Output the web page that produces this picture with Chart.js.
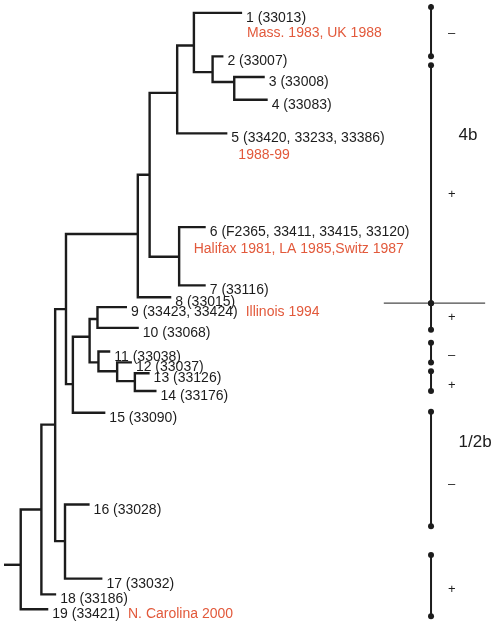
<!DOCTYPE html>
<html>
<head>
<meta charset="utf-8">
<script src="https://cdn.jsdelivr.net/npm/chart.js@4"></script>
<style>
  html, body { margin: 0; padding: 0; background: #fff; overflow: hidden; }
  canvas { display: block; }
</style>
</head>
<body>
<canvas id="treeChart" width="498" height="630"></canvas>
<script>
// leaves: tip position (x = branch depth, y = row) and strain numbers
const leafNames = ['1','2','3','4','5','6','7','8','9','10','11','12','13','14','15','16','17','18','19'];
const leafX = [242, 223, 265, 268, 227, 205, 205, 170, 125, 137, 108, 130, 148, 155, 103, 87, 100, 53, 45];
const leafY = [9, 53, 74, 97, 131, 226, 285, 297, 307, 328, 352, 363, 374, 392, 414, 507, 582, 598, 613];
const leafStrains = ['(33013)', '(33007)', '(33008)', '(33083)', '(33420, 33233, 33386)',
    '(F2365, 33411, 33415, 33120)', '(33116)', '(33015)', '(33423, 33424)', '(33068)',
    '(33038)', '(33037)', '(33126)', '(33176)', '(33090)', '(33028)', '(33032)', '(33186)', '(33421)'];

// internal nodes: depth, row where it joins its parent, children
const nodeNames = ['A','B','C','D','E','F','G','H','I','J','K','L','M','N','O','P','Q','R'];
const nodeX = [193, 212, 234, 176, 148, 178, 136, 63, 70, 87, 95, 96, 115, 133, 52, 62, 38, 17];
const nodeJoinY = [42, 69, 79, 90, 173, 256, 233, 309, 385, 337, 319, 363, 372, 382, 426, 544, 512, 568];
const nodeKids = [['1','B'], ['2','C'], ['3','4'], ['A','5'], ['D','F'], ['6','7'], ['E','8'],
    ['G','I'], ['J','15'], ['K','L'], ['9','10'], ['11','M'], ['12','N'], ['13','14'],
    ['H','P'], ['16','17'], ['O','18'], ['Q','19']];

// outbreak notes attached to leaves
const noteLeaf = ['1', '5', '6', '9', '19'];
const noteText = ['Mass. 1983, UK 1988', '1988-99', 'Halifax 1981, LA 1985,Switz 1987', 'Illinois 1994', 'N. Carolina 2000'];

// phenotype bars on the right
const barFrom = [3, 62, 303, 343, 372, 413, 558];
const barTo = [53, 303, 330, 363, 392, 529, 620];
const barSign = ['\u2013', '+', '+', '\u2013', '+', '\u2013', '+'];
const signY = [30, 193, 317, 356, 386, 487, 593];
const groupNames = ['4b', '1/2b'];
const groupY = [132, 443];

const INK = '#1c1c1c';
const RED = '#e2593b';
const FONT = '"Liberation Sans", Arial, sans-serif';
const BAR_X = 434;

function posOf(name) {
    const li = leafNames.indexOf(name);
    if (li >= 0) return { x: leafX[li], y: leafY[li] };
    const ni = nodeNames.indexOf(name);
    return { x: nodeX[ni], y: nodeJoinY[ni] };
}

const datasets = [];

// one elbow polyline per internal node
nodeNames.forEach((n, i) => {
    const a = posOf(nodeKids[i][0]);
    const b = posOf(nodeKids[i][1]);
    datasets.push({
        data: [{ x: a.x, y: a.y }, { x: nodeX[i], y: a.y }, { x: nodeX[i], y: b.y }, { x: b.x, y: b.y }],
        showLine: true, borderColor: INK, borderWidth: 2.4, pointRadius: 0,
        borderJoinStyle: 'miter', borderCapStyle: 'butt', tension: 0
    });
});
// root stub
datasets.push({
    data: [{ x: 0, y: nodeJoinY[nodeJoinY.length - 1] }, { x: nodeX[nodeX.length - 1], y: nodeJoinY[nodeJoinY.length - 1] }],
    showLine: true, borderColor: INK, borderWidth: 2.4, pointRadius: 0
});

// phenotype bars
barFrom.forEach((y0, i) => {
    datasets.push({
        data: [{ x: BAR_X, y: y0 }, { x: BAR_X, y: barTo[i] }],
        showLine: true, borderColor: INK, borderWidth: 2, pointRadius: 3,
        pointBackgroundColor: INK, pointBorderWidth: 0
    });
});
// separator between the two groups
datasets.push({
    data: [{ x: 386, y: 303 }, { x: 489, y: 303 }],
    showLine: true, borderColor: '#4a4a4a', borderWidth: 1.4, pointRadius: 0
});

const labelPlugin = {
    id: 'treeLabels',
    afterDatasetsDraw(chart) {
        const c = chart.ctx;
        const sx = chart.scales.x, sy = chart.scales.y;
        c.save();
        c.textBaseline = 'alphabetic';
        c.textAlign = 'left';
        c.font = '14px ' + FONT;
        c.fillStyle = INK;
        const labelEnd = {};
        leafNames.forEach((n, i) => {
            const t = n + ' ' + leafStrains[i];
            const px = sx.getPixelForValue(leafX[i]) + 4;
            const py = sy.getPixelForValue(leafY[i]) + 9;
            c.fillText(t, px, py);
            labelEnd[n] = { x: px, y: py, w: c.measureText(t).width };
        });
        // notes: below the leaf label or after it on the same line
        const noteShift = [{ dx: 1, dy: 15 }, { dx: 7, dy: 17 }, { dx: -16, dy: 17 }, null, null];
        c.fillStyle = RED;
        noteLeaf.forEach((n, i) => {
            const l = labelEnd[n];
            const s = noteShift[i];
            if (s) c.fillText(noteText[i], l.x + s.dx, l.y + s.dy);
            else c.fillText(noteText[i], l.x + l.w + 8, l.y);
        });
        // signs and group names
        c.fillStyle = INK;
        c.textAlign = 'center';
        c.textBaseline = 'middle';
        c.font = '13px ' + FONT;
        barSign.forEach((s, i) => {
            c.fillText(s, sx.getPixelForValue(455), sy.getPixelForValue(signY[i]));
        });
        c.textAlign = 'left';
        c.font = '17px ' + FONT;
        groupNames.forEach((g, i) => {
            c.fillText(g, sx.getPixelForValue(462), sy.getPixelForValue(groupY[i]) + 1);
        });
        c.restore();
    }
};

new Chart(document.getElementById('treeChart').getContext('2d'), {
    type: 'scatter',
    data: { datasets: datasets },
    options: {
        responsive: false,
        animation: false,
        layout: { padding: 0 },
        plugins: { legend: { display: false }, tooltip: { enabled: false } },
        scales: {
            x: { type: 'linear', min: 0, max: 498, display: false },
            y: { type: 'linear', min: 0, max: 630, reverse: true, display: false }
        }
    },
    plugins: [labelPlugin]
});
</script>
</body>
</html>
